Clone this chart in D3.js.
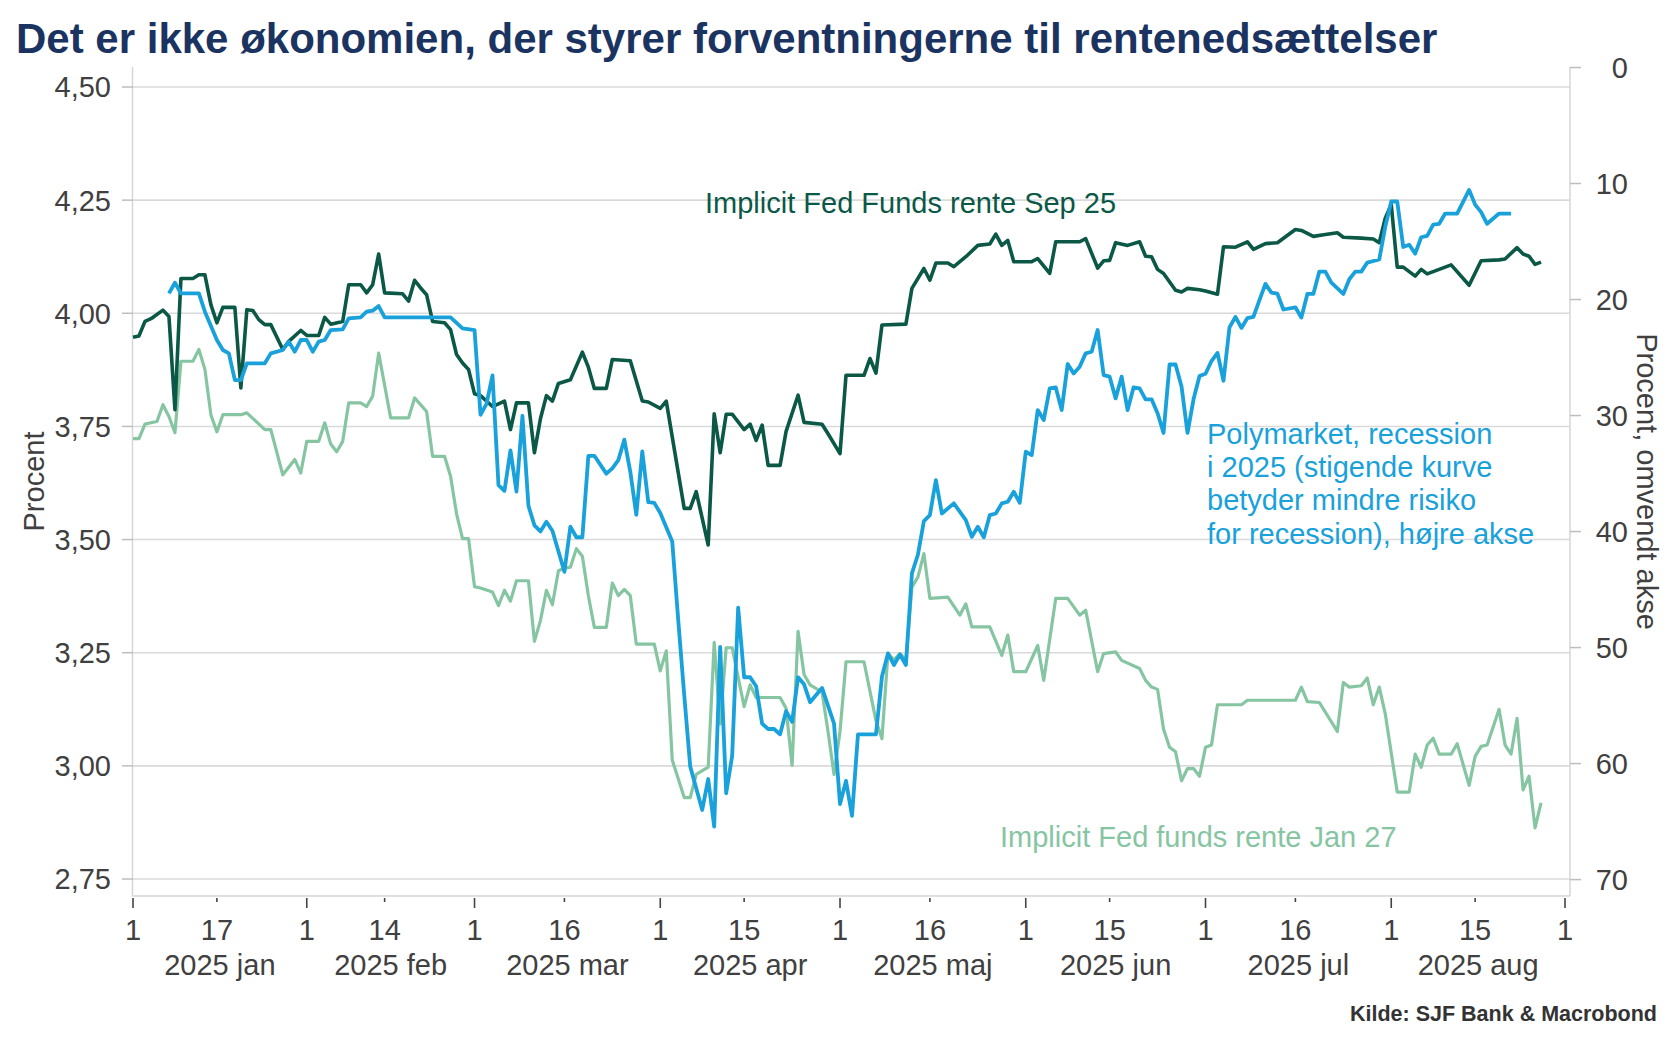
<!DOCTYPE html>
<html lang="da">
<head>
<meta charset="utf-8">
<title>Det er ikke økonomien, der styrer forventningerne til rentenedsættelser</title>
<script src="https://cdn.jsdelivr.net/npm/d3@7"></script>
<style>
  html, body { margin: 0; padding: 0; background: #fff; }
  svg { display: block; font-family: "Liberation Sans", Arial, sans-serif; }
</style>
</head>
<body>
<svg id="chart" width="1680" height="1051"></svg>
<script>
// Implicit Fed Funds rente Sep 25 (venstre akse, procent)
var sep25 = [
  ["2025-01-03",3.947],["2025-01-04",3.95],["2025-01-05",3.982],["2025-01-06",3.988],["2025-01-08",4.007],
  ["2025-01-09",3.993],["2025-01-10",3.787],["2025-01-11",4.077],["2025-01-13",4.077],["2025-01-14",4.085],
  ["2025-01-15",4.085],["2025-01-16",4.019],["2025-01-17",3.979],["2025-01-18",4.013],["2025-01-20",4.013],
  ["2025-01-21",3.835],["2025-01-22",4.008],["2025-01-23",4.006],["2025-01-24",3.986],["2025-01-25",3.975],
  ["2025-01-26",3.975],["2025-01-28",3.92],["2025-01-29",3.938],["2025-01-31",3.962],["2025-02-01",3.951],
  ["2025-02-03",3.951],["2025-02-04",3.991],["2025-02-05",3.976],["2025-02-07",3.982],["2025-02-08",4.063],
  ["2025-02-10",4.063],["2025-02-11",4.045],["2025-02-12",4.063],["2025-02-13",4.131],["2025-02-14",4.045],
  ["2025-02-17",4.043],["2025-02-18",4.027],["2025-02-19",4.073],["2025-02-20",4.056],["2025-02-21",4.041],
  ["2025-02-22",3.982],["2025-02-24",3.979],["2025-02-25",3.964],["2025-02-26",3.909],["2025-02-27",3.89],
  ["2025-02-28",3.876],["2025-03-01",3.822],["2025-03-02",3.818],["2025-03-04",3.794],["2025-03-06",3.806],
  ["2025-03-07",3.743],["2025-03-08",3.802],["2025-03-10",3.802],["2025-03-11",3.692],["2025-03-12",3.767],
  ["2025-03-13",3.818],["2025-03-14",3.806],["2025-03-15",3.845],["2025-03-17",3.853],["2025-03-19",3.914],
  ["2025-03-20",3.881],["2025-03-21",3.834],["2025-03-23",3.834],["2025-03-24",3.898],["2025-03-27",3.895],
  ["2025-03-29",3.806],["2025-03-30",3.804],["2025-04-01",3.79],["2025-04-02",3.806],["2025-04-05",3.569],
  ["2025-04-06",3.569],["2025-04-07",3.606],["2025-04-09",3.488],["2025-04-10",3.778],["2025-04-11",3.692],
  ["2025-04-12",3.777],["2025-04-13",3.777],["2025-04-15",3.743],["2025-04-16",3.755],["2025-04-17",3.719],
  ["2025-04-18",3.753],["2025-04-19",3.664],["2025-04-21",3.664],["2025-04-22",3.739],["2025-04-24",3.819],
  ["2025-04-25",3.759],["2025-04-28",3.755],["2025-04-29",3.734],["2025-05-01",3.69],["2025-05-02",3.863],
  ["2025-05-05",3.863],["2025-05-06",3.9],["2025-05-07",3.868],["2025-05-08",3.974],["2025-05-12",3.976],
  ["2025-05-13",4.055],["2025-05-15",4.099],["2025-05-16",4.073],["2025-05-17",4.111],["2025-05-19",4.111],
  ["2025-05-20",4.103],["2025-05-22",4.125],["2025-05-24",4.15],["2025-05-26",4.153],["2025-05-27",4.175],
  ["2025-05-28",4.15],["2025-05-29",4.161],["2025-05-30",4.114],["2025-06-02",4.114],["2025-06-03",4.121],
  ["2025-06-05",4.088],["2025-06-06",4.158],["2025-06-10",4.158],["2025-06-11",4.165],["2025-06-13",4.1],
  ["2025-06-14",4.116],["2025-06-15",4.117],["2025-06-16",4.156],["2025-06-18",4.15],["2025-06-20",4.158],
  ["2025-06-21",4.126],["2025-06-22",4.125],["2025-06-23",4.097],["2025-06-24",4.088],["2025-06-26",4.051],
  ["2025-06-27",4.047],["2025-06-28",4.055],["2025-06-30",4.052],["2025-07-01",4.049],["2025-07-03",4.042],
  ["2025-07-04",4.147],["2025-07-06",4.146],["2025-07-08",4.158],["2025-07-09",4.141],["2025-07-11",4.154],
  ["2025-07-13",4.156],["2025-07-16",4.185],["2025-07-17",4.183],["2025-07-19",4.17],["2025-07-21",4.174],
  ["2025-07-23",4.178],["2025-07-24",4.168],["2025-07-27",4.166],["2025-07-29",4.164],["2025-07-30",4.156],
  ["2025-07-31",4.21],["2025-08-01",4.24],["2025-08-02",4.102],["2025-08-03",4.102],["2025-08-05",4.082],
  ["2025-08-06",4.097],["2025-08-07",4.087],["2025-08-11",4.107],["2025-08-14",4.062],["2025-08-16",4.116],
  ["2025-08-19",4.118],["2025-08-20",4.12],["2025-08-22",4.145],["2025-08-23",4.131],["2025-08-24",4.126],
  ["2025-08-25",4.108],["2025-08-26",4.113]
];

// Polymarket, recession i 2025 (hoejre akse, procent, omvendt)
var poly = [
  ["2025-01-09",19.47],["2025-01-10",18.55],["2025-01-11",19.47],["2025-01-14",19.47],["2025-01-15",21.05],
  ["2025-01-17",23.49],["2025-01-18",24.35],["2025-01-19",24.64],["2025-01-20",26.94],["2025-01-21",26.94],
  ["2025-01-22",25.5],["2025-01-25",25.5],["2025-01-26",24.64],["2025-01-28",24.35],["2025-01-29",23.63],
  ["2025-01-30",24.5],["2025-01-31",23.49],["2025-02-01",23.49],["2025-02-02",24.5],["2025-02-03",23.63],
  ["2025-02-04",23.49],["2025-02-05",22.63],["2025-02-07",22.57],["2025-02-08",21.62],["2025-02-10",21.53],
  ["2025-02-11",21.05],["2025-02-12",20.96],["2025-02-13",20.56],["2025-02-14",21.53],["2025-02-25",21.53],
  ["2025-02-27",22.48],["2025-03-01",22.63],["2025-03-02",29.93],["2025-03-03",29.0],["2025-03-04",26.54],
  ["2025-03-05",35.99],["2025-03-06",36.49],["2025-03-07",33.0],["2025-03-08",36.55],["2025-03-09",30.02],
  ["2025-03-10",37.78],["2025-03-11",39.47],["2025-03-12",39.99],["2025-03-13",39.16],["2025-03-14",39.93],
  ["2025-03-16",43.47],["2025-03-17",39.57],["2025-03-18",40.49],["2025-03-19",40.49],["2025-03-20",33.47],
  ["2025-03-21",33.47],["2025-03-23",35.01],["2025-03-24",34.55],["2025-03-25",33.84],["2025-03-26",32.08],
  ["2025-03-27",34.85],["2025-03-28",38.55],["2025-03-29",33.1],["2025-03-30",37.47],["2025-03-31",37.53],
  ["2025-04-01",38.4],["2025-04-03",40.86],["2025-04-04",47.63],["2025-04-05",54.1],["2025-04-06",60.25],
  ["2025-04-08",64.0],["2025-04-09",61.33],["2025-04-10",65.43],["2025-04-11",49.94],["2025-04-12",62.56],
  ["2025-04-13",59.33],["2025-04-14",46.55],["2025-04-15",52.56],["2025-04-16",52.56],["2025-04-17",53.33],
  ["2025-04-18",56.56],["2025-04-19",57.02],["2025-04-20",57.02],["2025-04-21",57.48],["2025-04-22",55.48],
  ["2025-04-23",56.41],["2025-04-24",52.56],["2025-04-25",53.17],["2025-04-26",54.71],["2025-04-28",53.48],
  ["2025-04-30",56.56],["2025-05-01",63.49],["2025-05-02",61.49],["2025-05-03",64.5],["2025-05-04",57.48],
  ["2025-05-07",57.48],["2025-05-08",52.5],["2025-05-09",50.5],["2025-05-10",51.5],["2025-05-11",50.6],
  ["2025-05-12",51.5],["2025-05-13",43.6],["2025-05-14",42.0],["2025-05-15",39.1],["2025-05-16",38.58],
  ["2025-05-17",35.56],["2025-05-18",38.44],["2025-05-20",37.57],["2025-05-22",39.01],["2025-05-23",40.45],
  ["2025-05-24",39.59],["2025-05-25",40.5],["2025-05-26",38.58],["2025-05-27",38.44],["2025-05-28",37.57],
  ["2025-05-29",37.43],["2025-05-30",36.57],["2025-05-31",37.52],["2025-06-01",33.12],["2025-06-02",33.41],
  ["2025-06-03",29.53],["2025-06-04",30.39],["2025-06-05",27.66],["2025-06-06",27.57],["2025-06-07",29.53],
  ["2025-06-08",25.56],["2025-06-09",26.37],["2025-06-10",25.79],["2025-06-11",24.64],["2025-06-12",24.5],
  ["2025-06-13",22.63],["2025-06-14",26.51],["2025-06-15",26.65],["2025-06-16",28.52],["2025-06-17",26.65],
  ["2025-06-18",29.53],["2025-06-19",27.57],["2025-06-20",27.66],["2025-06-21",28.61],["2025-06-22",28.6],
  ["2025-06-23",29.8],["2025-06-24",31.5],["2025-06-25",25.6],["2025-06-26",25.6],["2025-06-27",27.5],
  ["2025-06-28",31.5],["2025-06-29",28.6],["2025-06-30",26.6],["2025-07-01",26.4],["2025-07-02",25.3],
  ["2025-07-03",24.6],["2025-07-04",27.0],["2025-07-05",22.4],["2025-07-06",21.5],["2025-07-07",22.45],
  ["2025-07-08",21.6],["2025-07-09",21.5],["2025-07-10",20.05],["2025-07-11",18.65],["2025-07-12",19.4],
  ["2025-07-13",19.5],["2025-07-14",20.86],["2025-07-16",20.67],["2025-07-17",21.56],["2025-07-18",19.52],
  ["2025-07-19",19.52],["2025-07-20",17.59],["2025-07-21",17.59],["2025-07-22",18.55],["2025-07-24",19.52],
  ["2025-07-25",18.25],["2025-07-26",17.59],["2025-07-27",17.59],["2025-07-28",16.82],["2025-07-30",16.55],
  ["2025-07-31",13.74],["2025-08-01",11.55],["2025-08-02",11.55],["2025-08-03",15.47],["2025-08-04",15.28],
  ["2025-08-05",16.05],["2025-08-06",14.63],["2025-08-07",14.51],["2025-08-08",13.55],["2025-08-09",13.47],
  ["2025-08-10",12.59],["2025-08-12",12.59],["2025-08-14",10.55],["2025-08-15",11.82],["2025-08-16",12.47],
  ["2025-08-17",13.47],["2025-08-19",12.59],["2025-08-21",12.59]
];

// Implicit Fed funds rente Jan 27 (venstre akse, procent)
var jan27 = [
  ["2025-01-03",3.723],["2025-01-04",3.723],["2025-01-05",3.755],["2025-01-06",3.758],["2025-01-07",3.761],
  ["2025-01-08",3.798],["2025-01-09",3.772],["2025-01-10",3.736],["2025-01-11",3.894],["2025-01-13",3.894],
  ["2025-01-14",3.92],["2025-01-15",3.876],["2025-01-16",3.776],["2025-01-17",3.738],["2025-01-18",3.776],
  ["2025-01-21",3.776],["2025-01-22",3.78],["2025-01-25",3.743],["2025-01-26",3.743],["2025-01-28",3.643],
  ["2025-01-30",3.677],["2025-01-31",3.647],["2025-02-01",3.717],["2025-02-03",3.717],["2025-02-04",3.758],
  ["2025-02-05",3.711],["2025-02-06",3.694],["2025-02-07",3.717],["2025-02-08",3.802],["2025-02-10",3.802],
  ["2025-02-11",3.794],["2025-02-12",3.817],["2025-02-13",3.912],["2025-02-15",3.769],["2025-02-18",3.769],
  ["2025-02-19",3.813],["2025-02-21",3.783],["2025-02-22",3.684],["2025-02-24",3.684],["2025-02-25",3.64],
  ["2025-02-26",3.557],["2025-02-27",3.502],["2025-02-28",3.502],["2025-03-01",3.396],["2025-03-02",3.393],
  ["2025-03-04",3.384],["2025-03-05",3.354],["2025-03-06",3.388],["2025-03-07",3.364],["2025-03-08",3.409],
  ["2025-03-10",3.409],["2025-03-11",3.275],["2025-03-12",3.321],["2025-03-13",3.388],["2025-03-14",3.356],
  ["2025-03-15",3.431],["2025-03-16",3.437],["2025-03-17",3.439],["2025-03-18",3.48],["2025-03-19",3.463],
  ["2025-03-20",3.376],["2025-03-21",3.306],["2025-03-23",3.306],["2025-03-24",3.404],["2025-03-25",3.376],
  ["2025-03-26",3.39],["2025-03-27",3.376],["2025-03-28",3.269],["2025-03-31",3.269],["2025-04-01",3.21],
  ["2025-04-02",3.254],["2025-04-03",3.013],["2025-04-05",2.93],["2025-04-06",2.93],["2025-04-07",2.981],
  ["2025-04-09",2.997],["2025-04-10",3.273],["2025-04-11",3.092],["2025-04-12",3.261],["2025-04-13",3.261],
  ["2025-04-15",3.131],["2025-04-16",3.179],["2025-04-17",3.151],["2025-04-21",3.151],["2025-04-22",3.127],
  ["2025-04-23",3.001],["2025-04-24",3.297],["2025-04-25",3.202],["2025-04-26",3.179],["2025-04-28",3.163],
  ["2025-04-29",3.076],["2025-04-30",2.981],["2025-05-01",3.076],["2025-05-02",3.23],["2025-05-05",3.23],
  ["2025-05-07",3.10],["2025-05-08",3.06],["2025-05-09",3.248],["2025-05-10",3.234],["2025-05-11",3.248],
  ["2025-05-12",3.234],["2025-05-13",3.395],["2025-05-14",3.417],["2025-05-15",3.469],["2025-05-16",3.37],
  ["2025-05-19",3.373],["2025-05-21",3.333],["2025-05-22",3.358],["2025-05-23",3.307],["2025-05-26",3.307],
  ["2025-05-28",3.244],["2025-05-29",3.289],["2025-05-30",3.208],["2025-06-01",3.208],["2025-06-03",3.266],
  ["2025-06-04",3.189],["2025-06-06",3.37],["2025-06-08",3.37],["2025-06-10",3.333],["2025-06-11",3.344],
  ["2025-06-13",3.208],["2025-06-14",3.248],["2025-06-16",3.252],["2025-06-17",3.233],["2025-06-20",3.215],
  ["2025-06-21",3.189],["2025-06-22",3.174],["2025-06-23",3.169],["2025-06-24",3.081],["2025-06-25",3.041],
  ["2025-06-26",3.031],["2025-06-27",2.967],["2025-06-28",2.994],["2025-06-29",2.994],["2025-06-30",2.977],
  ["2025-07-01",3.041],["2025-07-02",3.046],["2025-07-03",3.135],["2025-07-07",3.135],["2025-07-08",3.145],
  ["2025-07-16",3.145],["2025-07-17",3.174],["2025-07-18",3.142],["2025-07-20",3.14],["2025-07-23",3.076],
  ["2025-07-24",3.184],["2025-07-25",3.174],["2025-07-27",3.177],["2025-07-28",3.194],["2025-07-29",3.135],
  ["2025-07-30",3.174],["2025-07-31",3.115],["2025-08-02",2.942],["2025-08-04",2.942],["2025-08-05",3.026],
  ["2025-08-06",2.997],["2025-08-07",3.046],["2025-08-08",3.061],["2025-08-09",3.026],["2025-08-11",3.026],
  ["2025-08-12",3.049],["2025-08-14",2.957],["2025-08-15",3.021],["2025-08-16",3.043],["2025-08-17",3.046],
  ["2025-08-19",3.125],["2025-08-20",3.046],["2025-08-21",3.026],["2025-08-22",3.105],["2025-08-23",2.947],
  ["2025-08-24",2.977],["2025-08-25",2.863],["2025-08-26",2.918]
];

var leftTicks = [2.75, 3.0, 3.25, 3.5, 3.75, 4.0, 4.25, 4.5];
var rightTicks = [0, 10, 20, 30, 40, 50, 60, 70];
var dayTicks = [
  "2025-01-01", "2025-01-17", "2025-02-01", "2025-02-14", "2025-03-01", "2025-03-16",
  "2025-04-01", "2025-04-15", "2025-05-01", "2025-05-16", "2025-06-01", "2025-06-15",
  "2025-07-01", "2025-07-16", "2025-08-01", "2025-08-15", "2025-09-01"
];
var monthLabels = ["2025 jan", "2025 feb", "2025 mar", "2025 apr", "2025 maj", "2025 jun", "2025 jul", "2025 aug"];

var titleText = "Det er ikke økonomien, der styrer forventningerne til rentenedsættelser";
var polyNote = ["Polymarket, recession", "i 2025 (stigende kurve", "betyder mindre risiko", "for recession), højre akse"];

(function () {
  var parse = d3.utcParse("%Y-%m-%d");
  var da = d3.formatLocale({ decimal: ",", thousands: ".", grouping: [3], currency: ["", " kr."] });
  var fmtL = da.format(".2f");

  var COL_DARK = "#0b5847";
  var COL_BLUE = "#18a1da";
  var COL_LIGHT = "#86c5a2";
  var COL_GRID = "#dadada";
  var COL_TEXT = "#404040";

  var left = 133, right = 1570, top = 67, bottom = 896;

  var x = d3.scaleUtc()
    .domain([parse("2025-01-03"), parse("2025-08-30")])
    .range([left, 1565])
    .clamp(true);
  var yL = d3.scaleLinear().domain([2.75, 4.5]).range([879, 87]);
  var yR = d3.scaleLinear().domain([0, 70]).range([67.5, 879.6]);

  var svg = d3.select("#chart");

  // title
  svg.append("text")
    .attr("x", 16)
    .attr("y", 53)
    .attr("fill", "#1b3361")
    .style("font-size", "42px")
    .style("font-weight", "bold")
    .text(titleText);

  // grid
  svg.append("g")
    .selectAll("line")
    .data(leftTicks)
    .join("line")
    .attr("x1", left).attr("x2", right)
    .attr("y1", function (d) { return yL(d); })
    .attr("y2", function (d) { return yL(d); })
    .attr("stroke", COL_GRID)
    .attr("stroke-width", 1.6);

  // frame: left, right, bottom
  var frame = svg.append("g").attr("stroke", "#d6d6d6").attr("stroke-width", 1.5);
  frame.append("line").attr("x1", left - 0.5).attr("x2", left - 0.5).attr("y1", top).attr("y2", bottom);
  frame.append("line").attr("x1", right).attr("x2", right).attr("y1", top).attr("y2", bottom);
  frame.append("line").attr("x1", left - 0.5).attr("x2", right).attr("y1", bottom).attr("y2", bottom);

  // left axis
  var gl = svg.append("g");
  gl.selectAll("line")
    .data(leftTicks)
    .join("line")
    .attr("x1", left - 11).attr("x2", left)
    .attr("y1", function (d) { return yL(d); })
    .attr("y2", function (d) { return yL(d); })
    .attr("stroke", "#bdbdbd")
    .attr("stroke-width", 1.5);
  gl.selectAll("text")
    .data(leftTicks)
    .join("text")
    .attr("x", 111)
    .attr("y", function (d) { return yL(d); })
    .attr("dy", "0.36em")
    .attr("text-anchor", "end")
    .attr("fill", COL_TEXT)
    .style("font-size", "29px")
    .text(function (d) { return fmtL(d); });

  // right axis
  var gr = svg.append("g");
  gr.selectAll("line")
    .data(rightTicks)
    .join("line")
    .attr("x1", right).attr("x2", right + 11)
    .attr("y1", function (d) { return yR(d); })
    .attr("y2", function (d) { return yR(d); })
    .attr("stroke", "#bdbdbd")
    .attr("stroke-width", 1.5);
  gr.selectAll("text")
    .data(rightTicks)
    .join("text")
    .attr("x", 1628)
    .attr("y", function (d) { return yR(d); })
    .attr("dy", "0.36em")
    .attr("text-anchor", "end")
    .attr("fill", COL_TEXT)
    .style("font-size", "29px")
    .text(function (d) { return d; });

  // axis titles
  svg.append("text")
    .attr("transform", "translate(44," + (top + bottom) / 2 + ") rotate(-90)")
    .attr("text-anchor", "middle")
    .attr("fill", COL_TEXT)
    .style("font-size", "29px")
    .text("Procent");
  svg.append("text")
    .attr("transform", "translate(1637," + (top + bottom) / 2 + ") rotate(90)")
    .attr("text-anchor", "middle")
    .attr("fill", COL_TEXT)
    .style("font-size", "29px")
    .text("Procent, omvendt akse");

  // x axis
  var days = dayTicks.map(parse);
  var gx = svg.append("g");
  gx.selectAll("line")
    .data(days)
    .join("line")
    .attr("x1", function (d) { return x(d); })
    .attr("x2", function (d) { return x(d); })
    .attr("y1", bottom + 2)
    .attr("y2", function (d) { return d.getUTCDate() === 1 ? bottom + 12 : bottom + 6; })
    .attr("stroke", "#444")
    .attr("stroke-width", 1.6);
  gx.selectAll("text")
    .data(days)
    .join("text")
    .attr("x", function (d) { return x(d); })
    .attr("y", 940)
    .attr("text-anchor", "middle")
    .attr("fill", COL_TEXT)
    .style("font-size", "29px")
    .text(function (d) { return d.getUTCDate(); });

  var months = d3.utcMonth.range(parse("2025-01-01"), parse("2025-09-01"));
  svg.append("g")
    .selectAll("text")
    .data(months)
    .join("text")
    .attr("x", function (d) { return (x(d) + x(d3.utcMonth.offset(d, 1))) / 2; })
    .attr("y", 975)
    .attr("text-anchor", "middle")
    .attr("fill", COL_TEXT)
    .style("font-size", "29px")
    .text(function (d, i) { return monthLabels[i]; });

  // series
  var lineL = d3.line()
    .x(function (d) { return x(parse(d[0])); })
    .y(function (d) { return yL(d[1]); });
  var lineR = d3.line()
    .x(function (d) { return x(parse(d[0])); })
    .y(function (d) { return yR(d[1]); });

  var gs = svg.append("g").attr("fill", "none").attr("stroke-linejoin", "round");
  gs.append("path").datum(jan27).attr("d", lineL).attr("stroke", COL_LIGHT).attr("stroke-width", 3.2);
  gs.append("path").datum(sep25).attr("d", lineL).attr("stroke", COL_DARK).attr("stroke-width", 3.6);
  gs.append("path").datum(poly).attr("d", lineR).attr("stroke", COL_BLUE).attr("stroke-width", 3.8);

  // labels on chart
  svg.append("text")
    .attr("x", 705)
    .attr("y", 213)
    .attr("fill", COL_DARK)
    .style("font-size", "29px")
    .text("Implicit Fed Funds rente Sep 25");

  svg.append("text")
    .attr("x", 1000)
    .attr("y", 847)
    .attr("fill", COL_LIGHT)
    .style("font-size", "29px")
    .text("Implicit Fed funds rente Jan 27");

  svg.append("g")
    .selectAll("text")
    .data(polyNote)
    .join("text")
    .attr("x", 1207)
    .attr("y", function (d, i) { return 444 + i * 33.2; })
    .attr("fill", COL_BLUE)
    .style("font-size", "29px")
    .text(function (d) { return d; });

  // source
  svg.append("text")
    .attr("x", 1657)
    .attr("y", 1021)
    .attr("text-anchor", "end")
    .attr("fill", "#333")
    .style("font-size", "21.5px")
    .style("font-weight", "bold")
    .text("Kilde: SJF Bank & Macrobond");
})();
</script>
</body>
</html>
